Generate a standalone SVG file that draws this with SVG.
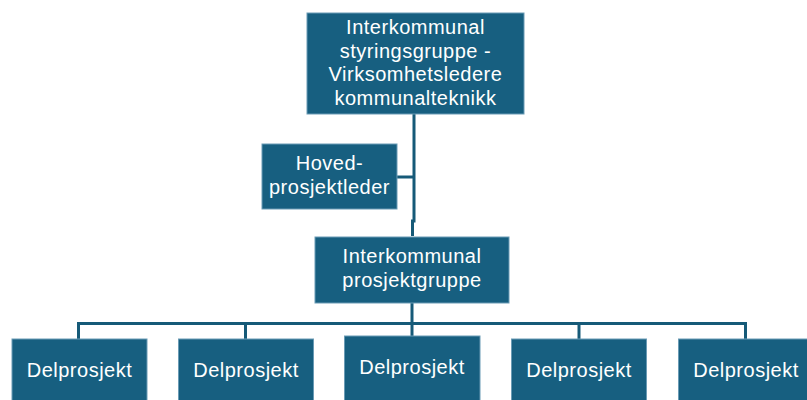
<svg xmlns="http://www.w3.org/2000/svg" width="807" height="400" viewBox="0 0 807 400">
<style>
.box{fill:#175f80;stroke:#6a9bb5;stroke-width:1}
.t{font-family:"Liberation Sans",Arial,sans-serif;font-size:20px;letter-spacing:0.5px;fill:#ffffff;text-anchor:middle}
.c{fill:none;stroke:#165a78;stroke-width:3}
</style>
<rect width="807" height="400" fill="#ffffff"/>
<g id="connectors">
<path class="c" d="M414,114 V221 H412.5 V236"/>
<path class="c" d="M397,177 H414"/>
<path class="c" d="M412,303 V337"/>
<path class="c" d="M78.5,339 V323.5 H745.5 V339"/>
<path class="c" d="M245.5,323.5 V339"/>
<path class="c" d="M579,323.5 V339"/>
</g>
<g id="styringsgruppe">
<rect class="box" x="307" y="13" width="217" height="101"/>
<text class="t" x="415.5" y="34">Interkommunal</text>
<text class="t" x="415.5" y="57.5">styringsgruppe -</text>
<text class="t" x="415.5" y="81">Virksomhetsledere</text>
<text class="t" x="415.5" y="104.5">kommunalteknikk</text>
</g>
<g id="hovedprosjektleder">
<rect class="box" x="262" y="144" width="135" height="65"/>
<text class="t" x="329.5" y="170">Hoved-</text>
<text class="t" x="329.5" y="193.5">prosjektleder</text>
</g>
<g id="prosjektgruppe">
<rect class="box" x="315" y="237" width="194" height="66"/>
<text class="t" x="412" y="263">Interkommunal</text>
<text class="t" x="412" y="286.5">prosjektgruppe</text>
</g>
<g id="delprosjekt1">
<rect class="box" x="12" y="339" width="135" height="70"/>
<text class="t" x="79.5" y="377">Delprosjekt</text>
</g>
<g id="delprosjekt2">
<rect class="box" x="178.5" y="339" width="135" height="70"/>
<text class="t" x="246" y="377">Delprosjekt</text>
</g>
<g id="delprosjekt3">
<rect class="box" x="344.5" y="336" width="135.5" height="70"/>
<text class="t" x="412" y="374">Delprosjekt</text>
</g>
<g id="delprosjekt4">
<rect class="box" x="511.5" y="339" width="135" height="70"/>
<text class="t" x="579" y="377">Delprosjekt</text>
</g>
<g id="delprosjekt5">
<rect class="box" x="678.5" y="339" width="135" height="70"/>
<text class="t" x="746" y="377">Delprosjekt</text>
</g>
</svg>
